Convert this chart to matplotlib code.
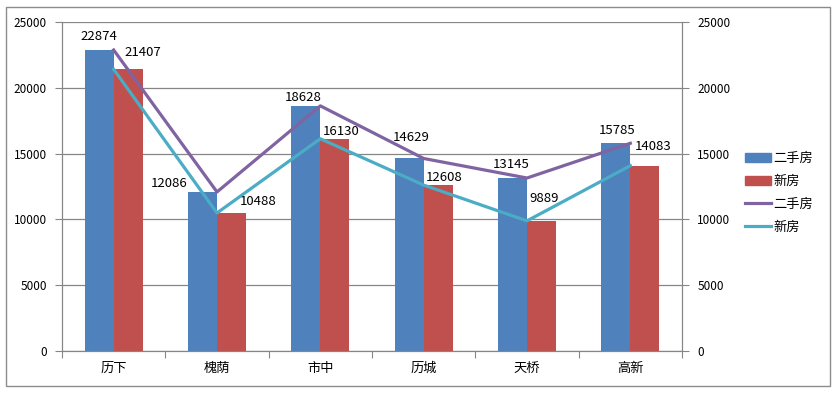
import matplotlib
matplotlib.use("Agg")
import matplotlib.pyplot as plt
import numpy as np
from matplotlib.patches import Rectangle, Patch
from matplotlib.lines import Line2D

plt.rcParams['font.family'] = ['Noto Sans CJK SC', 'DejaVu Sans']

categories = ['历下', '槐荫', '市中', '历城', '天桥', '高新']
second_hand = [22874, 12086, 18628, 14629, 13145, 15785]
new_house = [21407, 10488, 16130, 12608, 9889, 14083]
yticks = [0, 5000, 10000, 15000, 20000, 25000]
legend_names = ['二手房', '新房', '二手房', '新房']

BLUE = '#4F81BD'
RED = '#C0504D'
PURPLE = '#8064A2'
TEAL = '#4BACC6'
GRID = '#868686'

# label offsets in pixels (dx, dy) relative to bar top centre
blue_off = [(0, 13), (-33, 8), (-3, 8), (2, 21), (-1, 14), (1, 13)]
red_off = [(15, 17), (27, 11), (6, 7), (6, 8), (3, 22), (8, 19)]

fig = plt.figure(figsize=(8.37, 3.94), dpi=100)
fig.patches.append(Rectangle((6 / 837, 1 - 386 / 394), 824 / 837, 379 / 394,
                             transform=fig.transFigure, fill=False,
                             edgecolor='#8c8c8c', linewidth=1.0))

ax = fig.add_axes([62 / 837, 1 - 351 / 394, 620 / 837, 329 / 394])
x = np.arange(len(categories))
w = 0.28
ax.bar(x - w / 2, second_hand, width=w, color=BLUE, zorder=2)
ax.bar(x + w / 2, new_house, width=w, color=RED, zorder=2)

ax.set_xlim(-0.5, len(categories) - 0.5)
ax.set_ylim(0, 25000)
ax.set_yticks(yticks)
ax.set_yticklabels([str(t) for t in yticks], fontsize=8.5)
ax.yaxis.grid(True, color=GRID, linewidth=0.9, zorder=0)
ax.set_axisbelow(True)
ax.set_xticks(np.arange(-0.5, len(categories), 1.0))
ax.set_xticklabels([])
ax.set_xticks(x, minor=True)
ax.set_xticklabels(categories, minor=True, fontsize=9.5)
ax.tick_params(axis='x', which='minor', length=0, pad=8)
ax.tick_params(axis='x', which='major', length=5, color=GRID, direction='out')
ax.tick_params(axis='y', length=5, color=GRID, direction='out', pad=6)
for s in ['left', 'bottom', 'right']:
    ax.spines[s].set_color(GRID)
ax.spines['top'].set_visible(False)

ax2 = ax.twinx()
ax2.plot(x, second_hand, color=PURPLE, linewidth=2.3, zorder=3)
ax2.plot(x, new_house, color=TEAL, linewidth=2.3, zorder=3)
ax2.set_ylim(0, 25000)
ax2.set_yticks(yticks)
ax2.set_yticklabels([str(t) for t in yticks], fontsize=8.5)
ax2.tick_params(axis='y', length=5, color=GRID, direction='out', pad=6)
for s in ['left', 'bottom', 'right']:
    ax2.spines[s].set_color(GRID)
ax2.spines['top'].set_visible(False)

for i in range(len(categories)):
    ax2.annotate(str(second_hand[i]), (x[i] - w / 2, second_hand[i]),
                 xytext=blue_off[i], textcoords='offset pixels',
                 ha='center', va='center', fontsize=9.5, zorder=5)
    ax2.annotate(str(new_house[i]), (x[i] + w / 2, new_house[i]),
                 xytext=red_off[i], textcoords='offset pixels',
                 ha='center', va='center', fontsize=9.5, zorder=5)

handles = [Patch(color=BLUE), Patch(color=RED),
           Line2D([], [], color=PURPLE, linewidth=2.3),
           Line2D([], [], color=TEAL, linewidth=2.3)]
fig.legend(handles, legend_names, loc='center left',
           bbox_to_anchor=(738 / 837, 1 - 193 / 394), frameon=False,
           fontsize=9.5, handlelength=2.0, handleheight=0.7,
           handletextpad=0.2, labelspacing=0.75, borderpad=0)

fig.savefig('out.png', dpi=100)
